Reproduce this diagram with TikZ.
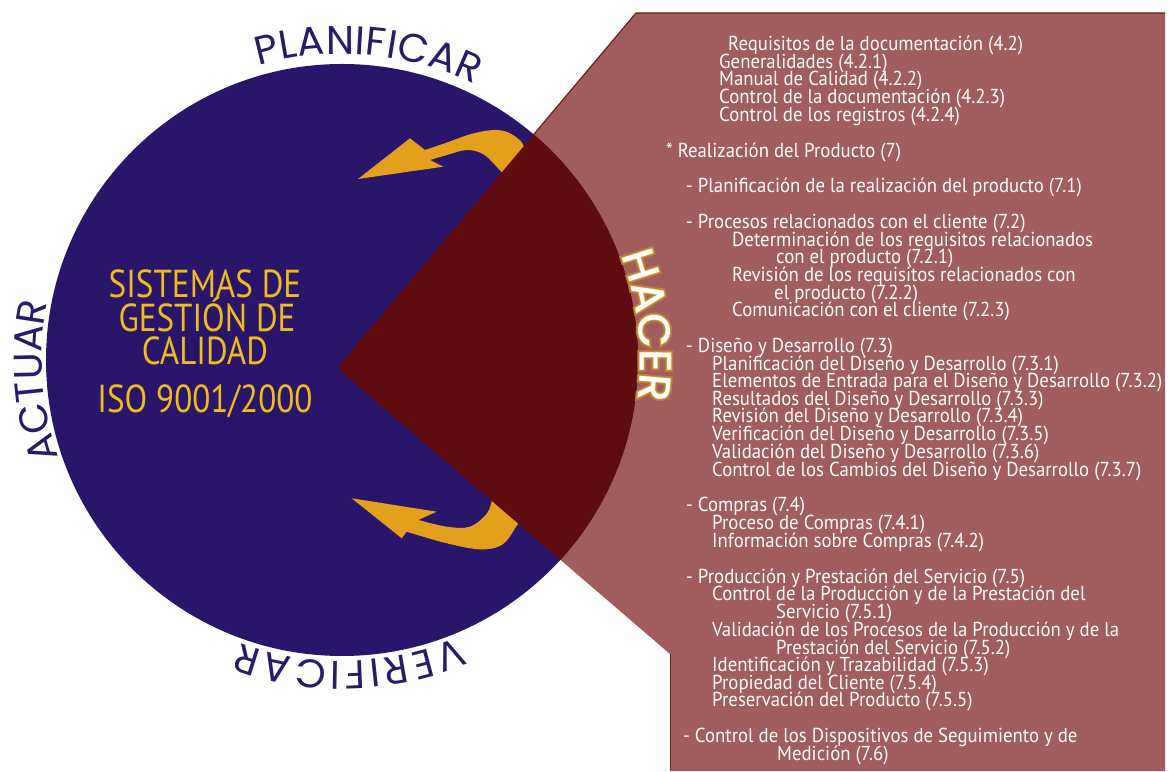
\documentclass[tikz,border=0pt]{standalone}
\usepackage{fontspec}
\setmainfont{PT Sans}
\newfontfamily\listfont[FakeStretch=0.93]{PT Sans}
\newfontfamily\titlefont[FakeStretch=0.85]{PT Sans}
\newfontfamily\arcfont{Poppins}
\newfontfamily\glowwide[FakeBold=12]{Poppins}
\newfontfamily\glowcore[FakeBold=5]{Poppins}
\newfontfamily\hacerfont[FakeBold=1.5]{Poppins}
\usetikzlibrary{decorations.text}

\definecolor{navy}{HTML}{29166A}
\definecolor{labelnavy}{HTML}{2A1A6B}
\definecolor{wedgered}{HTML}{5E0C10}
\definecolor{panelred}{HTML}{A15C5C}
\definecolor{paneledge}{HTML}{6E1E1E}
\definecolor{arrowgold}{HTML}{E3A01C}
\definecolor{titlegold}{HTML}{EFBC1C}
\definecolor{glowgold}{HTML}{E0A521}

\tikzset{
  item/.style={anchor=base west, text=white, inner sep=0pt,
    font=\listfont\fontsize{20.2}{20.2}\selectfont},
  title/.style={anchor=base, text=titlegold, inner sep=0pt,
    font=\titlefont\fontsize{39}{39}\selectfont},
  arclabel/.style={decorate, decoration={text along path,
    text format delimiters={|}{|}, text align=fit to path,
    text={|\arcfont\fontsize{40}{40}\selectfont\color{labelnavy}|#1}}},
  hacertext/.style 2 args={decorate, decoration={text along path,
    text format delimiters={|}{|}, text align=fit to path,
    text={|#1\fontsize{44}{44}\selectfont\color{#2}|HACER}}},
}

\begin{document}
\begin{tikzpicture}[x=1pt,y=1pt]
\useasboundingbox (0,0) rectangle (1169,771);

\coordinate (c) at (342,411);
\coordinate (apex) at (337,403);
\coordinate (ptop) at (636,758);
\coordinate (pbot) at (670,117);

% text panel behind the circle
\fill[panelred] (apex) -- (ptop) -- (1165,758) -- (1165,0) -- (670,0) -- (pbot) -- cycle;
\draw[paneledge, line width=1.2pt] (apex) -- (ptop) -- (1165,758);
\draw[paneledge, line width=0.8pt] (pbot) -- (670,0);

% the cycle disc
\fill[navy] (c) circle[radius=296];

% upper return arrow
\fill[arrowgold] (358,592) -- (410,632.7) -- (425,621)
  -- plot[smooth, tension=0.6] coordinates {(425,621) (447,628.5) (473,637.5) (497,641) (513,636) (524,624) (520,604) (505,595)}
  -- plot[smooth, tension=0.6] coordinates {(505,595) (494,607) (483,617) (467,621) (447,616) (430,611)}
  -- (443.3,604.3) -- cycle;

% lower return arrow
\fill[arrowgold] (351.7,272.7) -- (436.7,259.3) -- (418.3,251)
  -- plot[smooth, tension=0.6] coordinates {(418.3,251) (447,244.3) (470,244.3) (487,257.7) (493,272) (505,284)}
  -- plot[smooth, tension=0.6] coordinates {(505,284) (524,262) (515,242.7) (501.7,226) (480,221.7) (446.7,227.7) (406.7,239.3)}
  -- (401.7,232.7) -- cycle;

% dark sector of the disc
\begin{scope}
  \clip (c) circle[radius=296];
  \fill[wedgered] (apex) -- (ptop) -- (1000,758) -- (1000,117) -- (pbot) -- cycle;
\end{scope}

% titles in the disc
\node[title] (sis) at (205,473) {SISTEMAS DE};
\node[title] (ges) at (207,439) {GESTIÓN DE};
\node[title] (cal) at (205,406) {CALIDAD};
\node[title] (iso) at (205,358) {ISO 9001/2000};

% phase labels around the disc
\path[arclabel=PLANIFICAR] (c) ++(105.8:306) arc[start angle=105.8, end angle=64.4, radius=306];
\path[arclabel=ACTUAR] (c) ++(199:300) arc[start angle=199, end angle=169.6, radius=300];
\path[arclabel=VERIFICAR] (c) ++(-67.3:301) arc[start angle=-67.3, end angle=-109.9, radius=301];

% glowing HACER label: soft halo, gold rim, white letters
\path[hacertext={\glowwide}{glowgold!40!panelred}]
    (c) ++(20.6:298) arc[start angle=20.6, end angle=-7.6, radius=298];
\path[hacertext={\glowcore}{glowgold}]
    (c) ++(20.6:298) arc[start angle=20.6, end angle=-7.6, radius=298];
\path[hacertext={\hacerfont}{white}]
    (c) ++(20.6:298) arc[start angle=20.6, end angle=-7.6, radius=298];

% clause list
\node[item] (t1)  at (728,720) {Requisitos de la documentación (4.2)};
\node[item] (t2)  at (719,702) {Generalidades (4.2.1)};
\node[item] (t3)  at (719,685) {Manual de Calidad (4.2.2)};
\node[item] (t4)  at (719,667) {Control de la documentación (4.2.3)};
\node[item] (t5)  at (719,649) {Control de los registros (4.2.4)};
\node[item] (t6)  at (666,613) {* Realización del Producto (7)};
\node[item] (t7)  at (686,578) {- Planificación de la realización del producto (7.1)};
\node[item] (t8)  at (686,542) {- Procesos relacionados con el cliente (7.2)};
\node[item] (t9)  at (732,524) {Determinación de los requisitos relacionados};
\node[item] (t10) at (776,507) {con el producto (7.2.1)};
\node[item] (t11) at (732,489) {Revisión de los requisitos relacionados con};
\node[item] (t12) at (774,471) {el producto (7.2.2)};
\node[item] (t13) at (732,454) {Comunicación con el cliente (7.2.3)};
\node[item] (t14) at (686,418) {- Diseño y Desarrollo (7.3)};
\node[item] (t15) at (712,400) {Planificación del Diseño y Desarrollo (7.3.1)};
\node[item] (t16) at (712,383) {Elementos de Entrada para el Diseño y Desarrollo (7.3.2)};
\node[item] (t17) at (712,365) {Resultados del Diseño y Desarrollo (7.3.3)};
\node[item] (t18) at (712,348) {Revisión del Diseño y Desarrollo (7.3.4)};
\node[item] (t19) at (712,330) {Verificación del Diseño y Desarrollo (7.3.5)};
\node[item] (t20) at (712,312) {Validación del Diseño y Desarrollo (7.3.6)};
\node[item] (t21) at (712,294) {Control de los Cambios del Diseño y Desarrollo (7.3.7)};
\node[item] (t22) at (686,259) {- Compras (7.4)};
\node[item] (t23) at (712,241) {Proceso de Compras (7.4.1)};
\node[item] (t24) at (712,223) {Información sobre Compras (7.4.2)};
\node[item] (t25) at (686,187) {- Producción y Prestación del Servicio (7.5)};
\node[item] (t26) at (712,170) {Control de la Producción y de la Prestación del};
\node[item] (t27) at (776,153) {Servicio (7.5.1)};
\node[item] (t28) at (712,135) {Validación de los Procesos de la Producción y de la};
\node[item] (t29) at (776,117) {Prestación del Servicio (7.5.2)};
\node[item] (t30) at (712,100) {Identificación y Trazabilidad (7.5.3)};
\node[item] (t31) at (712,82)  {Propiedad del Cliente (7.5.4)};
\node[item] (t32) at (712,65)  {Preservación del Producto (7.5.5)};
\node[item] (t33) at (683,29)  {- Control de los Dispositivos de Seguimiento y de};
\node[item] (t34) at (777,11)  {Medición (7.6)};
\end{tikzpicture}
\end{document}
